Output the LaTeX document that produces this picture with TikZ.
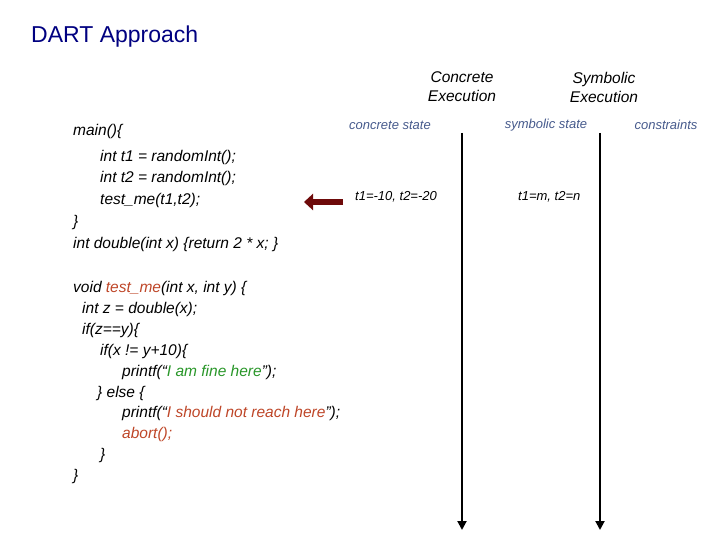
\documentclass[tikz,border=0pt]{standalone}
\usepackage{fontspec}
\setmainfont{Liberation Sans}
\usetikzlibrary{positioning,arrows.meta}
\definecolor{navy}{RGB}{0,0,128}
\definecolor{stateblue}{RGB}{70,90,140}
\definecolor{funred}{RGB}{190,70,40}
\definecolor{okgreen}{RGB}{40,150,40}
\definecolor{arrowred}{RGB}{110,10,10}
\begin{document}
\begin{tikzpicture}[x=1pt,y=-1pt,
        CodeLine/.style={anchor=west,inner sep=0pt,font=\fontsize{15.5}{17}\selectfont\itshape},
        Head/.style={align=center,inner sep=0pt,font=\fontsize{15.5}{19}\selectfont\itshape},
        State/.style={inner sep=0pt,text=stateblue,font=\fontsize{13}{15}\selectfont\itshape},
        Value/.style={anchor=west,inner sep=0pt,font=\fontsize{13}{15}\selectfont\itshape},
        TimeLine/.style={line width=2pt,-{Triangle[length=9pt,width=9pt]}}
    ]
    \useasboundingbox (0,0) rectangle (720,540);
    
    %title
    \node[anchor=west,inner sep=0pt,text=navy,font=\fontsize{23}{26}\selectfont] (title) at (31,37) {DART Approach};
    
    %column heads
    \node[Head] (conc) at (462,87) {Concrete\\Execution};
    \node[Head] (symb) at (604,87) {Symbolic\\Execution};
    \node[State] (cstate) at (390,125) {concrete state};
    \node[State] (sstate) at (546,125) {symbolic state};
    \node[State] (cons) at (666,125) {constraints};
    
    %time lines
    \coordinate (ctop) at (462,133);
    \coordinate (cbot) at (462,530);
    \coordinate (stop) at (600,133);
    \coordinate (sbot) at (600,530);
    \draw[TimeLine] (ctop)--(cbot);
    \draw[TimeLine] (stop)--(sbot);
    
    %values
    \node[Value] (cval) at (355,197) {t1=-10, t2=-20};
    \node[Value] (sval) at (518,197) {t1=m, t2=n};
    \coordinate (atail) at (343,202);
    \coordinate (ahead) at (304,202);
    \draw[line width=6pt,draw=arrowred,-{Triangle[length=9pt,width=16pt]}] (atail)--(ahead);
    
    %code
    \node[CodeLine] (l1) at (73,131) {main()\{};
    \node[CodeLine] (l2) at (100,157) {int t1 = randomInt();};
    \node[CodeLine] (l3) at (100,178) {int t2 = randomInt();};
    \node[CodeLine] (l4) at (100,200) {test\_me(t1,t2);};
    \node[CodeLine] (l5) at (73,222) {\}};
    \node[CodeLine] (l6) at (73,244) {int double(int x) \{return 2 * x; \}};
    \node[CodeLine] (l7) at (73,288) {void \textcolor{funred}{test\_me}(int x, int y) \{};
    \node[CodeLine] (l8) at (82,309) {int z = double(x);};
    \node[CodeLine] (l9) at (82,330) {if(z==y)\{};
    \node[CodeLine] (l10) at (100,351) {if(x != y+10)\{};
    \node[CodeLine] (l11) at (122,372) {printf(``\textcolor{okgreen}{I am fine here}'');};
    \node[CodeLine] (l12) at (97,393) {\} else \{};
    \node[CodeLine] (l13) at (122,413) {printf(``\textcolor{funred}{I should not reach here}'');};
    \node[CodeLine] (l14) at (122,434) {\textcolor{funred}{abort();}};
    \node[CodeLine] (l15) at (100,455) {\}};
    \node[CodeLine] (l16) at (73,476) {\}};
    
\end{tikzpicture}
\end{document}
